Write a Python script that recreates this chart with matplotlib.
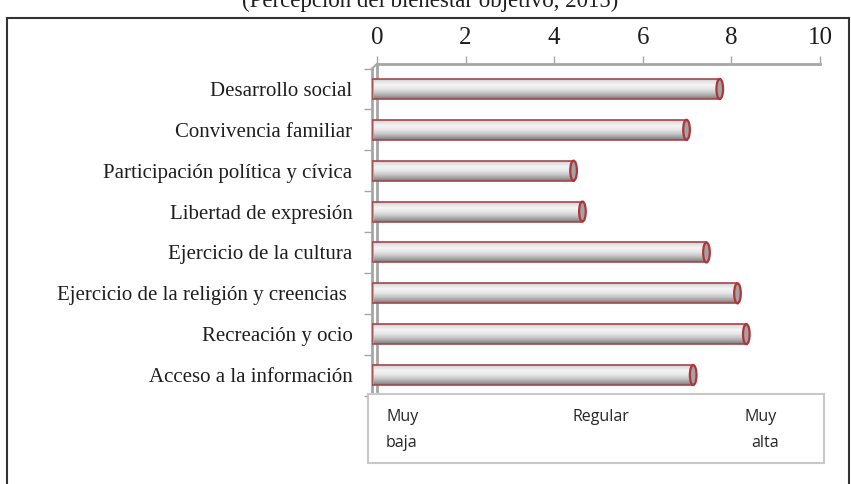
import matplotlib
matplotlib.use("Agg")
import matplotlib.pyplot as plt
import numpy as np
from matplotlib.patches import Rectangle, Ellipse
from matplotlib.lines import Line2D
from matplotlib.colors import LinearSegmentedColormap

# ---- data ----
categories = ["Desarrollo social", "Convivencia familiar", "Participación política y cívica",
              "Libertad de expresión", "Ejercicio de la cultura",
              "Ejercicio de la religión y creencias ", "Recreación y ocio",
              "Acceso a la información"]
values = [7.85, 7.1, 4.55, 4.75, 7.55, 8.25, 8.45, 7.25]
xticks = [0, 2, 4, 6, 8, 10]
title = "(Percepción del bienestar objetivo, 2015)"
scale_low = ["Muy", "baja"]
scale_mid = "Regular"
scale_high = ["Muy", "alta"]

W, H = 851, 484
fig = plt.figure(figsize=(W / 100, H / 100), dpi=100)
fig.patch.set_facecolor("white")

def box(x0, y0, x1, y1):
    return [x0 / W, 1 - y1 / H, (x1 - x0) / W, (y1 - y0) / H]

serif = "Liberation Serif"
gray = "#a6a6a6"
txt = "#1e1e1e"

# back wall axes (top scale)
ax2 = fig.add_axes(box(377, 64, 820, 391))
ax2.set_xlim(0, 10)
ax2.set_ylim(0, 1)
ax2.patch.set_alpha(0)
for s in ["right", "bottom"]:
    ax2.spines[s].set_visible(False)
for s in ["top", "left"]:
    ax2.spines[s].set_color(gray)
    ax2.spines[s].set_linewidth(2)
ax2.xaxis.tick_top()
ax2.set_xticks(xticks)
ax2.set_xticklabels([str(t) for t in xticks], fontfamily=serif, fontsize=18, color=txt)
ax2.tick_params(axis="x", direction="out", length=5.5, width=1, color=gray, pad=5)
ax2.set_yticks([])

# front axes (bars)
ax = fig.add_axes(box(372, 68.5, 815, 395.5))
ax.set_xlim(0, 10)
ax.set_ylim(len(categories) - 0.5, -0.5)
ax.patch.set_alpha(0)
for s in ["right", "bottom", "top"]:
    ax.spines[s].set_visible(False)
ax.spines["left"].set_color(gray)
ax.spines["left"].set_linewidth(2)
ax.set_xticks([])
ax.set_yticks(range(len(categories)))
ax.set_yticklabels(categories, fontfamily=serif, fontsize=15, color=txt)
ax.tick_params(axis="y", length=0, pad=14)
ax.set_yticks(np.arange(-0.5, len(categories), 1.0), minor=True)
ax.tick_params(axis="y", which="minor", length=6, width=1, color=gray, direction="out")

# diagonal wall edge
fig.add_artist(Line2D([372 / W, 377 / W], [1 - 68.5 / H, 1 - 64 / H], color=gray, lw=1.5))

# gradient for cylinders
cmap = LinearSegmentedColormap.from_list(
    "cyl", [(0.0, "#b4b4b4"), (0.12, "#dedede"), (0.32, "#f4f4f4"), (0.5, "#e8e8e8"),
            (0.7, "#c8c8c8"), (0.86, "#a2a2a2"), (1.0, "#7a7a7a")])
grad = np.linspace(0, 1, 64).reshape(-1, 1)
h = 0.49
for i, v in enumerate(values):
    im = ax.imshow(grad, cmap=cmap, aspect="auto", origin="upper",
                   extent=(0, v, i + h / 2, i - h / 2), zorder=2, interpolation="bilinear")
    bars = ax.barh([i], [v], height=h, left=0, facecolor="none",
                   edgecolor="#a5474b", linewidth=1.2, zorder=3)
    im.set_clip_path(bars.patches[0])
    ax.add_patch(Ellipse((v, i), width=0.15, height=h, facecolor="#a3a3a3",
                         edgecolor="#b0353a", linewidth=1.6, zorder=4))
ax.set_xlim(0, 10)
ax.set_ylim(len(categories) - 0.5, -0.5)

# scale box
fig.add_artist(Rectangle((368 / W, 1 - 463 / H), (824 - 368) / W, (463 - 394) / H,
                         facecolor="white", edgecolor="#c8c8c8", linewidth=1.5, zorder=5))
sans = "Open Sans"
fs = 11.5
col2 = "#262626"
fig.text(386 / W, 1 - 417 / H, scale_low[0], fontfamily=sans, fontsize=fs, va="center", color=col2, zorder=6)
fig.text(386 / W, 1 - 443 / H, scale_low[1], fontfamily=sans, fontsize=fs, va="center", color=col2, zorder=6)
fig.text(572 / W, 1 - 417 / H, scale_mid, fontfamily=sans, fontsize=fs, va="center", color=col2, zorder=6)
fig.text(744 / W, 1 - 417 / H, scale_high[0], fontfamily=sans, fontsize=fs, va="center", color=col2, zorder=6)
fig.text(751 / W, 1 - 443 / H, scale_high[1], fontfamily=sans, fontsize=fs, va="center", color=col2, zorder=6)

# outer frame
fig.add_artist(Rectangle((7 / W, -0.05), (849 - 7) / W, 1.05 - 18 / H,
                         facecolor="none", edgecolor="#333333", linewidth=1.5, zorder=1))

# title (cut at top, as in the source)
fig.text(430 / W, 1 - 1 / H, title, fontfamily=serif, fontsize=16.5, ha="center", va="center",
         color=txt)

fig.savefig("out.png", dpi=100)
